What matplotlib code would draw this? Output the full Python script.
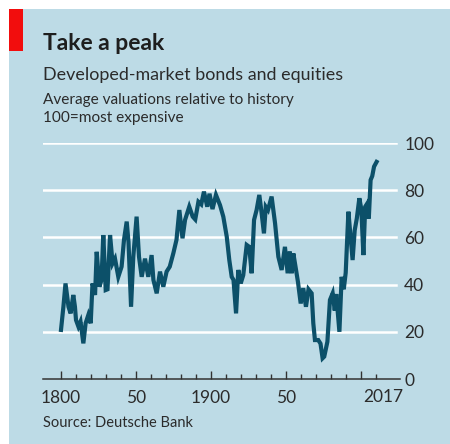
import matplotlib.pyplot as plt
from matplotlib.patches import Rectangle

# valuations (year, index 100 = most expensive)
years = [1800, 1801.6, 1803, 1805, 1806.4, 1808.2, 1809.3, 1810, 1811.6, 1813,
         1814.9, 1816.4, 1818.2, 1819.8, 1821, 1822.7, 1823.8, 1825.6, 1827, 1828.2,
         1829.8, 1831, 1832.7, 1834.4, 1836, 1838.2, 1840.4, 1842, 1843.8, 1845,
         1846.7, 1848.2, 1850.4, 1852, 1853.8, 1856, 1858.2, 1860.4, 1861.6, 1863.8,
         1866, 1868.2, 1870.4, 1872.5, 1874.9, 1877, 1878.9, 1881, 1882.7, 1885.5,
         1887.8, 1889.5, 1891.6, 1893.5, 1895.3, 1897.5, 1899, 1901, 1903.3, 1906,
         1908.2, 1910.5, 1912.2, 1913.8, 1915, 1916.7, 1918.2, 1919.8, 1921.5, 1923.8,
         1925.5, 1927.1, 1928.7, 1930.4, 1932.2, 1933.5, 1935.3, 1936.5, 1938, 1940.4,
         1942.7, 1944.9, 1947.1, 1949.3, 1951.1, 1952.5, 1953.8, 1954.9, 1956.7, 1958,
         1959.8, 1961.5, 1963.3, 1965, 1967.1, 1968.2, 1969.3, 1971.5, 1973, 1974.4,
         1975.5, 1977.6, 1979.3, 1981.1, 1982.5, 1983.5, 1985.6, 1987.1, 1988.5, 1989.8,
         1991.6, 1992.8, 1994.4, 1995.8, 1997.2, 1998.9, 2000.2, 2001.6, 2002.8, 2004.2,
         2005.2, 2006.4, 2007.5, 2008.7, 2010.4]
values = [20.8, 30.6, 40.5, 30.6, 27.8, 35.6, 30.6, 25, 22.2, 24.3,
          15.1, 23.6, 27.1, 23.6, 40.5, 35.6, 53.9, 39.1, 42, 61,
          37.7, 38, 61, 49, 51, 43.3, 47.6, 59, 66.7, 58,
          30.6, 51.8, 68.8, 51.8, 43.3, 51, 43.3, 52.5, 42, 36.3,
          45.5, 39.1, 45.5, 47.6, 53.3, 59, 71.6, 59.6, 67.4, 73,
          68.8, 67.6, 75.1, 74, 79.4, 73, 78.5, 72, 78, 73.7,
          68.8, 60.3, 50.4, 43.3, 42, 27.8, 46.2, 40.5, 44, 56.8,
          56, 44.8, 67.4, 71.6, 78, 71.6, 61.7, 73, 71.6, 77.3,
          66, 51.8, 46.2, 56, 44.8, 54, 44.8, 53.2, 46.2, 41,
          32, 38.5, 30.6, 38, 36.3, 23.6, 16.5, 16.5, 15, 8.8,
          9.5, 15.8, 33.5, 36.3, 29, 36, 20, 43.3, 38, 45,
          70.9, 62, 50.4, 63, 68, 76.6, 72, 52.5, 73, 74.4,
          68, 84.3, 86, 90, 92]

x_major = [1800, 1850, 1900, 1950, 2000]
x_labels = ["1800", "50", "1900", "50", ""]
x_minor = list(range(1800, 2011, 10))
y_ticks = [0, 20, 40, 60, 80, 100]

bg = '#bddbe6'
line_col = '#0c5069'
txt = '#2b2b2b'
plt.rcParams['font.family'] = ['Lato', 'DejaVu Sans']

W, H = 450, 444
fig = plt.figure(figsize=(W / 100, H / 100), dpi=100, facecolor='white')

# blue panel and red flag, kept under the axes
fig.patches.append(Rectangle((9 / W, 0), 1, 1 - 9 / H, transform=fig.transFigure,
                             facecolor=bg, edgecolor='none', zorder=-2))
fig.patches.append(Rectangle((9 / W, 1 - 51 / H), 14 / W, 42 / H, transform=fig.transFigure,
                             facecolor='#f20d0d', edgecolor='none', zorder=-1))

# titles
fig.text(43 / W, 1 - 50 / H, 'Take a peak', fontsize=16.5, fontweight='bold', color='#1e1e1e', va='baseline')
fig.text(43 / W, 1 - 80 / H, 'Developed-market bonds and equities', fontsize=12.9, color=txt, va='baseline')
fig.text(43 / W, 1 - 104 / H, 'Average valuations relative to history', fontsize=11.1, color=txt, va='baseline')
fig.text(43 / W, 1 - 122 / H, '100=most expensive', fontsize=11.1, color=txt, va='baseline')
fig.text(43 / W, 1 - 427 / H, 'Source: Deutsche Bank', fontsize=10.5, color=txt, va='baseline')

# axes: 1800 sits at px 61, 1.5 px per year
left, right = 43, 400
x0 = 1800 - (61 - left) / 1.5
x1 = 1800 + (right - 61) / 1.5
ax = fig.add_axes([left / W, 1 - 379 / H, (right - left) / W, (379 - 143) / H])
ax.set_facecolor('none')
ax.set_xlim(x0, x1)
ax.set_ylim(0, 100)

for v in y_ticks[1:]:
    ax.axhline(v, xmax=0.99, color='white', lw=1.8, zorder=1)

ax.plot(years, values, color=line_col, lw=3, solid_joinstyle='miter', zorder=3, clip_on=False)

for s in ['top', 'left', 'right']:
    ax.spines[s].set_visible(False)
ax.spines['bottom'].set_color('#333333')
ax.spines['bottom'].set_linewidth(1.1)

ax.set_xticks(x_major)
ax.set_xticklabels(x_labels)
ax.set_xticks(x_minor, minor=True)
ax.tick_params(axis='x', which='major', direction='in', length=6, width=1, color='#333333',
               pad=8, labelsize=12.5, labelcolor=txt)
ax.tick_params(axis='x', which='minor', direction='in', length=3.5, width=1, color='#333333')
# the last label sits to the right of the 2010 tick
ax.text(2014.7, -23 / 236, '2017', transform=ax.get_xaxis_transform(), ha='center', va='baseline',
        fontsize=12.5, color=txt)

ax.yaxis.tick_right()
ax.set_yticks(y_ticks)
ax.tick_params(axis='y', length=0, pad=3, labelsize=12.5, labelcolor=txt)

fig.savefig('out.png', dpi=100, facecolor='white')
